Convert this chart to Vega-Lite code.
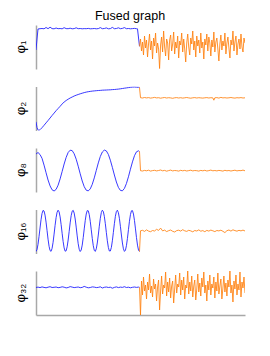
{"$schema":"https://vega.github.io/schema/vega-lite/v6.json","padding":{"left":14,"top":9,"right":26,"bottom":5},"title":{"text":"Fused graph","font":"Liberation Sans","fontSize":12.5,"fontWeight":"normal","color":"#000","anchor":"middle","offset":3},"data":{"values":[
{"p":"φ₁","s":"a","x":0,"y":19},{"p":"φ₁","s":"a","x":1,"y":30},{"p":"φ₁","s":"a","x":2,"y":40},{"p":"φ₁","s":"a","x":4,"y":40.3},{"p":"φ₁","s":"a","x":6,"y":40.5},{"p":"φ₁","s":"a","x":8,"y":40.2},{"p":"φ₁","s":"a","x":10,"y":41.5},{"p":"φ₁","s":"a","x":12,"y":40.3},{"p":"φ₁","s":"a","x":14,"y":41.8},{"p":"φ₁","s":"a","x":16,"y":40.4},{"p":"φ₁","s":"a","x":18,"y":40.2},{"p":"φ₁","s":"a","x":20,"y":41},{"p":"φ₁","s":"a","x":22,"y":40.3},{"p":"φ₁","s":"a","x":24,"y":40.5},{"p":"φ₁","s":"a","x":26,"y":40.2},{"p":"φ₁","s":"a","x":28,"y":41.3},{"p":"φ₁","s":"a","x":30,"y":40.4},{"p":"φ₁","s":"a","x":32,"y":40.3},{"p":"φ₁","s":"a","x":34,"y":40.8},{"p":"φ₁","s":"a","x":36,"y":40.2},{"p":"φ₁","s":"a","x":38,"y":40.4},{"p":"φ₁","s":"a","x":40,"y":41.2},{"p":"φ₁","s":"a","x":42,"y":40.3},{"p":"φ₁","s":"a","x":44,"y":40.5},{"p":"φ₁","s":"a","x":46,"y":40.2},{"p":"φ₁","s":"a","x":48,"y":40.4},{"p":"φ₁","s":"a","x":50,"y":40.3},{"p":"φ₁","s":"a","x":52,"y":40.6},{"p":"φ₁","s":"a","x":54,"y":40.2},{"p":"φ₁","s":"a","x":56,"y":40.3},{"p":"φ₁","s":"a","x":58,"y":40.5},{"p":"φ₁","s":"a","x":60,"y":40.2},{"p":"φ₁","s":"a","x":62,"y":40.4},{"p":"φ₁","s":"a","x":64,"y":41.4},{"p":"φ₁","s":"a","x":66,"y":40.3},{"p":"φ₁","s":"a","x":68,"y":40.5},{"p":"φ₁","s":"a","x":70,"y":41.1},{"p":"φ₁","s":"a","x":72,"y":40.2},{"p":"φ₁","s":"a","x":74,"y":40.4},{"p":"φ₁","s":"a","x":76,"y":41.6},{"p":"φ₁","s":"a","x":78,"y":40.3},{"p":"φ₁","s":"a","x":80,"y":40.5},{"p":"φ₁","s":"a","x":82,"y":41.2},{"p":"φ₁","s":"a","x":84,"y":40.3},{"p":"φ₁","s":"a","x":86,"y":40.6},{"p":"φ₁","s":"a","x":88,"y":41.4},{"p":"φ₁","s":"a","x":90,"y":40.3},{"p":"φ₁","s":"a","x":92,"y":40.5},{"p":"φ₁","s":"a","x":94,"y":40.2},{"p":"φ₁","s":"a","x":96,"y":40.4},{"p":"φ₁","s":"a","x":98,"y":40.6},{"p":"φ₁","s":"a","x":100,"y":40.3},{"p":"φ₁","s":"a","x":101,"y":40.2},{"p":"φ₁","s":"a","x":103,"y":22.7},
{"p":"φ₁","s":"b","x":103,"y":22.7},{"p":"φ₁","s":"b","x":104,"y":30},{"p":"φ₁","s":"b","x":105,"y":18},{"p":"φ₁","s":"b","x":106,"y":27},{"p":"φ₁","s":"b","x":107,"y":14},{"p":"φ₁","s":"b","x":108,"y":33},{"p":"φ₁","s":"b","x":109,"y":21},{"p":"φ₁","s":"b","x":110,"y":29},{"p":"φ₁","s":"b","x":111,"y":12},{"p":"φ₁","s":"b","x":112,"y":25},{"p":"φ₁","s":"b","x":113,"y":35},{"p":"φ₁","s":"b","x":114,"y":19},{"p":"φ₁","s":"b","x":115,"y":28},{"p":"φ₁","s":"b","x":116,"y":10},{"p":"φ₁","s":"b","x":117,"y":31},{"p":"φ₁","s":"b","x":118,"y":23},{"p":"φ₁","s":"b","x":119,"y":36},{"p":"φ₁","s":"b","x":120,"y":16},{"p":"φ₁","s":"b","x":121,"y":26},{"p":"φ₁","s":"b","x":122,"y":20},{"p":"φ₁","s":"b","x":123,"y":0.5},{"p":"φ₁","s":"b","x":124,"y":24},{"p":"φ₁","s":"b","x":125,"y":32},{"p":"φ₁","s":"b","x":126,"y":17},{"p":"φ₁","s":"b","x":127,"y":38},{"p":"φ₁","s":"b","x":128,"y":22},{"p":"φ₁","s":"b","x":129,"y":13},{"p":"φ₁","s":"b","x":130,"y":30},{"p":"φ₁","s":"b","x":131,"y":26},{"p":"φ₁","s":"b","x":132,"y":9},{"p":"φ₁","s":"b","x":133,"y":29},{"p":"φ₁","s":"b","x":134,"y":34},{"p":"φ₁","s":"b","x":135,"y":18},{"p":"φ₁","s":"b","x":136,"y":25},{"p":"φ₁","s":"b","x":137,"y":37},{"p":"φ₁","s":"b","x":138,"y":15},{"p":"φ₁","s":"b","x":139,"y":27},{"p":"φ₁","s":"b","x":140,"y":21},{"p":"φ₁","s":"b","x":141,"y":33},{"p":"φ₁","s":"b","x":142,"y":11},{"p":"φ₁","s":"b","x":143,"y":28},{"p":"φ₁","s":"b","x":144,"y":24},{"p":"φ₁","s":"b","x":145,"y":36},{"p":"φ₁","s":"b","x":146,"y":17},{"p":"φ₁","s":"b","x":147,"y":30},{"p":"φ₁","s":"b","x":148,"y":20},{"p":"φ₁","s":"b","x":149,"y":7},{"p":"φ₁","s":"b","x":150,"y":26},{"p":"φ₁","s":"b","x":151,"y":35},{"p":"φ₁","s":"b","x":152,"y":22},{"p":"φ₁","s":"b","x":153,"y":14},{"p":"φ₁","s":"b","x":154,"y":31},{"p":"φ₁","s":"b","x":155,"y":25},{"p":"φ₁","s":"b","x":156,"y":38},{"p":"φ₁","s":"b","x":157,"y":19},{"p":"φ₁","s":"b","x":158,"y":28},{"p":"φ₁","s":"b","x":159,"y":12},{"p":"φ₁","s":"b","x":160,"y":33},{"p":"φ₁","s":"b","x":161,"y":23},{"p":"φ₁","s":"b","x":162,"y":29},{"p":"φ₁","s":"b","x":163,"y":16},{"p":"φ₁","s":"b","x":164,"y":36},{"p":"φ₁","s":"b","x":165,"y":21},{"p":"φ₁","s":"b","x":166,"y":27},{"p":"φ₁","s":"b","x":167,"y":10},{"p":"φ₁","s":"b","x":168,"y":30},{"p":"φ₁","s":"b","x":169,"y":24},{"p":"φ₁","s":"b","x":170,"y":35},{"p":"φ₁","s":"b","x":171,"y":18},{"p":"φ₁","s":"b","x":172,"y":32},{"p":"φ₁","s":"b","x":173,"y":26},{"p":"φ₁","s":"b","x":174,"y":13},{"p":"φ₁","s":"b","x":175,"y":29},{"p":"φ₁","s":"b","x":176,"y":22},{"p":"φ₁","s":"b","x":177,"y":37},{"p":"φ₁","s":"b","x":178,"y":17},{"p":"φ₁","s":"b","x":179,"y":27},{"p":"φ₁","s":"b","x":180,"y":31},{"p":"φ₁","s":"b","x":181,"y":20},{"p":"φ₁","s":"b","x":182,"y":8},{"p":"φ₁","s":"b","x":183,"y":25},{"p":"φ₁","s":"b","x":184,"y":34},{"p":"φ₁","s":"b","x":185,"y":19},{"p":"φ₁","s":"b","x":186,"y":28},{"p":"φ₁","s":"b","x":187,"y":23},{"p":"φ₁","s":"b","x":188,"y":36},{"p":"φ₁","s":"b","x":189,"y":15},{"p":"φ₁","s":"b","x":190,"y":26},{"p":"φ₁","s":"b","x":191,"y":32},{"p":"φ₁","s":"b","x":192,"y":21},{"p":"φ₁","s":"b","x":193,"y":11},{"p":"φ₁","s":"b","x":194,"y":29},{"p":"φ₁","s":"b","x":195,"y":24},{"p":"φ₁","s":"b","x":196,"y":38},{"p":"φ₁","s":"b","x":197,"y":18},{"p":"φ₁","s":"b","x":198,"y":27},{"p":"φ₁","s":"b","x":199,"y":33},{"p":"φ₁","s":"b","x":200,"y":14},{"p":"φ₁","s":"b","x":201,"y":25},{"p":"φ₁","s":"b","x":202,"y":30},{"p":"φ₁","s":"b","x":203,"y":20},{"p":"φ₁","s":"b","x":204,"y":35},{"p":"φ₁","s":"b","x":205,"y":22},{"p":"φ₁","s":"b","x":206,"y":17},{"p":"φ₁","s":"b","x":207,"y":31},{"p":"φ₁","s":"b","x":208,"y":26},
{"p":"φ₂","s":"a","x":0,"y":8.7},{"p":"φ₂","s":"a","x":1,"y":3},{"p":"φ₂","s":"a","x":2,"y":0.5},{"p":"φ₂","s":"a","x":3,"y":0},{"p":"φ₂","s":"a","x":4,"y":0.8},{"p":"φ₂","s":"a","x":6,"y":2.8},{"p":"φ₂","s":"a","x":8,"y":5.2},{"p":"φ₂","s":"a","x":10,"y":7.6},{"p":"φ₂","s":"a","x":12,"y":10},{"p":"φ₂","s":"a","x":14,"y":12.5},{"p":"φ₂","s":"a","x":16,"y":15},{"p":"φ₂","s":"a","x":18,"y":17.4},{"p":"φ₂","s":"a","x":20,"y":19.8},{"p":"φ₂","s":"a","x":22,"y":22},{"p":"φ₂","s":"a","x":24,"y":24.2},{"p":"φ₂","s":"a","x":26,"y":26.5},{"p":"φ₂","s":"a","x":28,"y":28.5},{"p":"φ₂","s":"a","x":30,"y":30},{"p":"φ₂","s":"a","x":32,"y":31.3},{"p":"φ₂","s":"a","x":34,"y":32.5},{"p":"φ₂","s":"a","x":36,"y":33.5},{"p":"φ₂","s":"a","x":38,"y":34.5},{"p":"φ₂","s":"a","x":40,"y":35.3},{"p":"φ₂","s":"a","x":42,"y":36},{"p":"φ₂","s":"a","x":44,"y":36.7},{"p":"φ₂","s":"a","x":46,"y":37.3},{"p":"φ₂","s":"a","x":48,"y":37.9},{"p":"φ₂","s":"a","x":50,"y":38.4},{"p":"φ₂","s":"a","x":52,"y":38.8},{"p":"φ₂","s":"a","x":54,"y":39.1},{"p":"φ₂","s":"a","x":56,"y":39.4},{"p":"φ₂","s":"a","x":58,"y":39.6},{"p":"φ₂","s":"a","x":60,"y":39.8},{"p":"φ₂","s":"a","x":62,"y":40},{"p":"φ₂","s":"a","x":64,"y":40.1},{"p":"φ₂","s":"a","x":66,"y":40.3},{"p":"φ₂","s":"a","x":68,"y":40.4},{"p":"φ₂","s":"a","x":70,"y":40.5},{"p":"φ₂","s":"a","x":72,"y":40.6},{"p":"φ₂","s":"a","x":74,"y":40.7},{"p":"φ₂","s":"a","x":76,"y":40.9},{"p":"φ₂","s":"a","x":78,"y":41},{"p":"φ₂","s":"a","x":80,"y":41.2},{"p":"φ₂","s":"a","x":82,"y":41.4},{"p":"φ₂","s":"a","x":84,"y":41.7},{"p":"φ₂","s":"a","x":86,"y":42},{"p":"φ₂","s":"a","x":88,"y":42.3},{"p":"φ₂","s":"a","x":90,"y":42.6},{"p":"φ₂","s":"a","x":92,"y":42.9},{"p":"φ₂","s":"a","x":94,"y":43.2},{"p":"φ₂","s":"a","x":96,"y":43.4},{"p":"φ₂","s":"a","x":98,"y":43.5},{"p":"φ₂","s":"a","x":100,"y":43.3},{"p":"φ₂","s":"a","x":102,"y":43.2},{"p":"φ₂","s":"a","x":103,"y":43.1},
{"p":"φ₂","s":"b","x":103,"y":43.1},{"p":"φ₂","s":"b","x":104,"y":32.8},{"p":"φ₂","s":"b","x":106,"y":32.5},{"p":"φ₂","s":"b","x":108,"y":33},{"p":"φ₂","s":"b","x":110,"y":32.6},{"p":"φ₂","s":"b","x":112,"y":32.9},{"p":"φ₂","s":"b","x":114,"y":32.4},{"p":"φ₂","s":"b","x":116,"y":32.7},{"p":"φ₂","s":"b","x":118,"y":33.1},{"p":"φ₂","s":"b","x":120,"y":32.6},{"p":"φ₂","s":"b","x":122,"y":32.8},{"p":"φ₂","s":"b","x":124,"y":32.3},{"p":"φ₂","s":"b","x":126,"y":32.7},{"p":"φ₂","s":"b","x":128,"y":33},{"p":"φ₂","s":"b","x":130,"y":32.5},{"p":"φ₂","s":"b","x":132,"y":32.8},{"p":"φ₂","s":"b","x":134,"y":32.6},{"p":"φ₂","s":"b","x":136,"y":32.2},{"p":"φ₂","s":"b","x":138,"y":32.7},{"p":"φ₂","s":"b","x":140,"y":32.9},{"p":"φ₂","s":"b","x":142,"y":32.5},{"p":"φ₂","s":"b","x":144,"y":32.8},{"p":"φ₂","s":"b","x":146,"y":32.4},{"p":"φ₂","s":"b","x":148,"y":32.7},{"p":"φ₂","s":"b","x":150,"y":33},{"p":"φ₂","s":"b","x":152,"y":32.6},{"p":"φ₂","s":"b","x":154,"y":32.3},{"p":"φ₂","s":"b","x":156,"y":32.7},{"p":"φ₂","s":"b","x":158,"y":32.9},{"p":"φ₂","s":"b","x":160,"y":32.5},{"p":"φ₂","s":"b","x":162,"y":32.8},{"p":"φ₂","s":"b","x":164,"y":32.6},{"p":"φ₂","s":"b","x":166,"y":32.4},{"p":"φ₂","s":"b","x":168,"y":32.7},{"p":"φ₂","s":"b","x":170,"y":32.9},{"p":"φ₂","s":"b","x":172,"y":32.5},{"p":"φ₂","s":"b","x":174,"y":32.8},{"p":"φ₂","s":"b","x":176,"y":32.6},{"p":"φ₂","s":"b","x":177,"y":30.3},{"p":"φ₂","s":"b","x":178,"y":32.7},{"p":"φ₂","s":"b","x":180,"y":32.9},{"p":"φ₂","s":"b","x":182,"y":32.4},{"p":"φ₂","s":"b","x":184,"y":33.1},{"p":"φ₂","s":"b","x":186,"y":32.6},{"p":"φ₂","s":"b","x":188,"y":32.8},{"p":"φ₂","s":"b","x":190,"y":32.5},{"p":"φ₂","s":"b","x":192,"y":32.7},{"p":"φ₂","s":"b","x":194,"y":33},{"p":"φ₂","s":"b","x":196,"y":32.6},{"p":"φ₂","s":"b","x":198,"y":32.4},{"p":"φ₂","s":"b","x":200,"y":32.8},{"p":"φ₂","s":"b","x":202,"y":32.6},{"p":"φ₂","s":"b","x":204,"y":32.9},{"p":"φ₂","s":"b","x":206,"y":32.5},{"p":"φ₂","s":"b","x":208,"y":32.7},
{"p":"φ₈","s":"a","x":0,"y":38},{"p":"φ₈","s":"a","x":2,"y":39.5},{"p":"φ₈","s":"a","x":4,"y":37.5},{"p":"φ₈","s":"a","x":6,"y":33.7},{"p":"φ₈","s":"a","x":8,"y":26.9},{"p":"φ₈","s":"a","x":10,"y":19.3},{"p":"φ₈","s":"a","x":12,"y":12},{"p":"φ₈","s":"a","x":14,"y":6.1},{"p":"φ₈","s":"a","x":16,"y":2.2},{"p":"φ₈","s":"a","x":18,"y":1},{"p":"φ₈","s":"a","x":20,"y":2.6},{"p":"φ₈","s":"a","x":22,"y":6.8},{"p":"φ₈","s":"a","x":24,"y":13.1},{"p":"φ₈","s":"a","x":26,"y":20.5},{"p":"φ₈","s":"a","x":28,"y":28},{"p":"φ₈","s":"a","x":30,"y":34.6},{"p":"φ₈","s":"a","x":32,"y":39.5},{"p":"φ₈","s":"a","x":34,"y":41.8},{"p":"φ₈","s":"a","x":36,"y":41.4},{"p":"φ₈","s":"a","x":38,"y":38.2},{"p":"φ₈","s":"a","x":40,"y":32.8},{"p":"φ₈","s":"a","x":42,"y":25.8},{"p":"φ₈","s":"a","x":44,"y":18.2},{"p":"φ₈","s":"a","x":46,"y":11},{"p":"φ₈","s":"a","x":48,"y":5.3},{"p":"φ₈","s":"a","x":50,"y":1.8},{"p":"φ₈","s":"a","x":52,"y":1.1},{"p":"φ₈","s":"a","x":54,"y":3.1},{"p":"φ₈","s":"a","x":56,"y":7.7},{"p":"φ₈","s":"a","x":58,"y":14.1},{"p":"φ₈","s":"a","x":60,"y":21.6},{"p":"φ₈","s":"a","x":62,"y":29.1},{"p":"φ₈","s":"a","x":64,"y":35.5},{"p":"φ₈","s":"a","x":66,"y":40},{"p":"φ₈","s":"a","x":68,"y":41.9},{"p":"φ₈","s":"a","x":70,"y":41.1},{"p":"φ₈","s":"a","x":72,"y":37.6},{"p":"φ₈","s":"a","x":74,"y":31.8},{"p":"φ₈","s":"a","x":76,"y":24.6},{"p":"φ₈","s":"a","x":78,"y":17},{"p":"φ₈","s":"a","x":80,"y":10},{"p":"φ₈","s":"a","x":82,"y":4.6},{"p":"φ₈","s":"a","x":84,"y":1.6},{"p":"φ₈","s":"a","x":86,"y":1.2},{"p":"φ₈","s":"a","x":88,"y":3.6},{"p":"φ₈","s":"a","x":90,"y":8.5},{"p":"φ₈","s":"a","x":92,"y":15.2},{"p":"φ₈","s":"a","x":94,"y":22.8},{"p":"φ₈","s":"a","x":96,"y":30.1},{"p":"φ₈","s":"a","x":98,"y":36.3},{"p":"φ₈","s":"a","x":100,"y":40.2},{"p":"φ₈","s":"a","x":102,"y":41.2},{"p":"φ₈","s":"a","x":103,"y":40.5},
{"p":"φ₈","s":"b","x":103,"y":40.5},{"p":"φ₈","s":"b","x":104,"y":21.3},{"p":"φ₈","s":"b","x":106,"y":21},{"p":"φ₈","s":"b","x":108,"y":21.6},{"p":"φ₈","s":"b","x":110,"y":21.2},{"p":"φ₈","s":"b","x":112,"y":21.8},{"p":"φ₈","s":"b","x":114,"y":20.9},{"p":"φ₈","s":"b","x":116,"y":21.4},{"p":"φ₈","s":"b","x":118,"y":21.7},{"p":"φ₈","s":"b","x":120,"y":21.1},{"p":"φ₈","s":"b","x":122,"y":21.5},{"p":"φ₈","s":"b","x":124,"y":22},{"p":"φ₈","s":"b","x":126,"y":21.2},{"p":"φ₈","s":"b","x":128,"y":21.6},{"p":"φ₈","s":"b","x":130,"y":20.8},{"p":"φ₈","s":"b","x":132,"y":21.4},{"p":"φ₈","s":"b","x":134,"y":21.9},{"p":"φ₈","s":"b","x":136,"y":21.1},{"p":"φ₈","s":"b","x":138,"y":21.5},{"p":"φ₈","s":"b","x":140,"y":21.3},{"p":"φ₈","s":"b","x":142,"y":20.9},{"p":"φ₈","s":"b","x":144,"y":21.7},{"p":"φ₈","s":"b","x":146,"y":21.2},{"p":"φ₈","s":"b","x":148,"y":21.6},{"p":"φ₈","s":"b","x":150,"y":21},{"p":"φ₈","s":"b","x":152,"y":21.4},{"p":"φ₈","s":"b","x":154,"y":21.8},{"p":"φ₈","s":"b","x":156,"y":21.1},{"p":"φ₈","s":"b","x":158,"y":21.5},{"p":"φ₈","s":"b","x":160,"y":21.3},{"p":"φ₈","s":"b","x":162,"y":20.9},{"p":"φ₈","s":"b","x":164,"y":21.6},{"p":"φ₈","s":"b","x":166,"y":21.2},{"p":"φ₈","s":"b","x":168,"y":21.7},{"p":"φ₈","s":"b","x":170,"y":21},{"p":"φ₈","s":"b","x":172,"y":21.4},{"p":"φ₈","s":"b","x":174,"y":21.9},{"p":"φ₈","s":"b","x":176,"y":21.2},{"p":"φ₈","s":"b","x":178,"y":21.5},{"p":"φ₈","s":"b","x":180,"y":21.1},{"p":"φ₈","s":"b","x":182,"y":21.6},{"p":"φ₈","s":"b","x":184,"y":21.3},{"p":"φ₈","s":"b","x":186,"y":20.9},{"p":"φ₈","s":"b","x":188,"y":21.7},{"p":"φ₈","s":"b","x":190,"y":21.2},{"p":"φ₈","s":"b","x":192,"y":21.5},{"p":"φ₈","s":"b","x":194,"y":21},{"p":"φ₈","s":"b","x":196,"y":21.4},{"p":"φ₈","s":"b","x":198,"y":21.8},{"p":"φ₈","s":"b","x":200,"y":21.1},{"p":"φ₈","s":"b","x":202,"y":21.5},{"p":"φ₈","s":"b","x":204,"y":21.3},{"p":"φ₈","s":"b","x":206,"y":21.9},{"p":"φ₈","s":"b","x":208,"y":21.2},
{"p":"φ₁₆","s":"a","x":0,"y":2},{"p":"φ₁₆","s":"a","x":1,"y":3.9},{"p":"φ₁₆","s":"a","x":2,"y":9.1},{"p":"φ₁₆","s":"a","x":3,"y":16.8},{"p":"φ₁₆","s":"a","x":4,"y":25.5},{"p":"φ₁₆","s":"a","x":5,"y":33.7},{"p":"φ₁₆","s":"a","x":6,"y":40},{"p":"φ₁₆","s":"a","x":7,"y":43.1},{"p":"φ₁₆","s":"a","x":8,"y":42.5},{"p":"φ₁₆","s":"a","x":9,"y":38.4},{"p":"φ₁₆","s":"a","x":10,"y":31.4},{"p":"φ₁₆","s":"a","x":11,"y":22.9},{"p":"φ₁₆","s":"a","x":12,"y":14.3},{"p":"φ₁₆","s":"a","x":13,"y":7.2},{"p":"φ₁₆","s":"a","x":14,"y":2.9},{"p":"φ₁₆","s":"a","x":15,"y":2.2},{"p":"φ₁₆","s":"a","x":16,"y":5.1},{"p":"φ₁₆","s":"a","x":17,"y":11.2},{"p":"φ₁₆","s":"a","x":18,"y":19.4},{"p":"φ₁₆","s":"a","x":19,"y":28.1},{"p":"φ₁₆","s":"a","x":20,"y":35.9},{"p":"φ₁₆","s":"a","x":21,"y":41.3},{"p":"φ₁₆","s":"a","x":22,"y":43.3},{"p":"φ₁₆","s":"a","x":23,"y":41.6},{"p":"φ₁₆","s":"a","x":24,"y":36.6},{"p":"φ₁₆","s":"a","x":25,"y":29},{"p":"φ₁₆","s":"a","x":26,"y":20.2},{"p":"φ₁₆","s":"a","x":27,"y":12},{"p":"φ₁₆","s":"a","x":28,"y":5.6},{"p":"φ₁₆","s":"a","x":29,"y":2.3},{"p":"φ₁₆","s":"a","x":30,"y":2.7},{"p":"φ₁₆","s":"a","x":31,"y":6.7},{"p":"φ₁₆","s":"a","x":32,"y":13.5},{"p":"φ₁₆","s":"a","x":33,"y":22},{"p":"φ₁₆","s":"a","x":34,"y":30.6},{"p":"φ₁₆","s":"a","x":35,"y":37.8},{"p":"φ₁₆","s":"a","x":36,"y":42.3},{"p":"φ₁₆","s":"a","x":37,"y":43.2},{"p":"φ₁₆","s":"a","x":38,"y":40.4},{"p":"φ₁₆","s":"a","x":39,"y":34.5},{"p":"φ₁₆","s":"a","x":40,"y":26.4},{"p":"φ₁₆","s":"a","x":41,"y":17.6},{"p":"φ₁₆","s":"a","x":42,"y":9.8},{"p":"φ₁₆","s":"a","x":43,"y":4.2},{"p":"φ₁₆","s":"a","x":44,"y":2},{"p":"φ₁₆","s":"a","x":45,"y":3.5},{"p":"φ₁₆","s":"a","x":46,"y":8.4},{"p":"φ₁₆","s":"a","x":47,"y":15.9},{"p":"φ₁₆","s":"a","x":48,"y":24.6},{"p":"φ₁₆","s":"a","x":49,"y":33},{"p":"φ₁₆","s":"a","x":50,"y":39.5},{"p":"φ₁₆","s":"a","x":51,"y":42.9},{"p":"φ₁₆","s":"a","x":52,"y":42.7},{"p":"φ₁₆","s":"a","x":53,"y":38.9},{"p":"φ₁₆","s":"a","x":54,"y":32.2},{"p":"φ₁₆","s":"a","x":55,"y":23.7},{"p":"φ₁₆","s":"a","x":56,"y":15.1},{"p":"φ₁₆","s":"a","x":57,"y":7.8},{"p":"φ₁₆","s":"a","x":58,"y":3.2},{"p":"φ₁₆","s":"a","x":59,"y":2.1},{"p":"φ₁₆","s":"a","x":60,"y":4.7},{"p":"φ₁₆","s":"a","x":61,"y":10.5},{"p":"φ₁₆","s":"a","x":62,"y":18.5},{"p":"φ₁₆","s":"a","x":63,"y":27.3},{"p":"φ₁₆","s":"a","x":64,"y":35.2},{"p":"φ₁₆","s":"a","x":65,"y":40.9},{"p":"φ₁₆","s":"a","x":66,"y":43.3},{"p":"φ₁₆","s":"a","x":67,"y":42},{"p":"φ₁₆","s":"a","x":68,"y":37.2},{"p":"φ₁₆","s":"a","x":69,"y":29.8},{"p":"φ₁₆","s":"a","x":70,"y":21.1},{"p":"φ₁₆","s":"a","x":71,"y":12.7},{"p":"φ₁₆","s":"a","x":72,"y":6.1},{"p":"φ₁₆","s":"a","x":73,"y":2.5},{"p":"φ₁₆","s":"a","x":74,"y":2.5},{"p":"φ₁₆","s":"a","x":75,"y":6.1},{"p":"φ₁₆","s":"a","x":76,"y":12.7},{"p":"φ₁₆","s":"a","x":77,"y":21.1},{"p":"φ₁₆","s":"a","x":78,"y":29.8},{"p":"φ₁₆","s":"a","x":79,"y":37.2},{"p":"φ₁₆","s":"a","x":80,"y":42},{"p":"φ₁₆","s":"a","x":81,"y":43.3},{"p":"φ₁₆","s":"a","x":82,"y":40.8},{"p":"φ₁₆","s":"a","x":83,"y":35.2},{"p":"φ₁₆","s":"a","x":84,"y":27.2},{"p":"φ₁₆","s":"a","x":85,"y":18.5},{"p":"φ₁₆","s":"a","x":86,"y":10.5},{"p":"φ₁₆","s":"a","x":87,"y":4.7},{"p":"φ₁₆","s":"a","x":88,"y":2.1},{"p":"φ₁₆","s":"a","x":89,"y":3.2},{"p":"φ₁₆","s":"a","x":90,"y":7.8},{"p":"φ₁₆","s":"a","x":91,"y":15.1},{"p":"φ₁₆","s":"a","x":92,"y":23.8},{"p":"φ₁₆","s":"a","x":93,"y":32.2},{"p":"φ₁₆","s":"a","x":94,"y":38.9},{"p":"φ₁₆","s":"a","x":95,"y":42.7},{"p":"φ₁₆","s":"a","x":96,"y":42.9},{"p":"φ₁₆","s":"a","x":97,"y":39.5},{"p":"φ₁₆","s":"a","x":98,"y":33},{"p":"φ₁₆","s":"a","x":99,"y":24.6},{"p":"φ₁₆","s":"a","x":100,"y":15.9},{"p":"φ₁₆","s":"a","x":101,"y":8.4},{"p":"φ₁₆","s":"a","x":102,"y":3.5},{"p":"φ₁₆","s":"a","x":103,"y":2},
{"p":"φ₁₆","s":"b","x":103,"y":2},{"p":"φ₁₆","s":"b","x":104,"y":22.7},{"p":"φ₁₆","s":"b","x":106,"y":23.2},{"p":"φ₁₆","s":"b","x":108,"y":22.1},{"p":"φ₁₆","s":"b","x":110,"y":23.6},{"p":"φ₁₆","s":"b","x":112,"y":22.4},{"p":"φ₁₆","s":"b","x":114,"y":21.8},{"p":"φ₁₆","s":"b","x":116,"y":23},{"p":"φ₁₆","s":"b","x":118,"y":22.5},{"p":"φ₁₆","s":"b","x":120,"y":24.2},{"p":"φ₁₆","s":"b","x":122,"y":23.1},{"p":"φ₁₆","s":"b","x":124,"y":25.4},{"p":"φ₁₆","s":"b","x":126,"y":22.6},{"p":"φ₁₆","s":"b","x":128,"y":23.4},{"p":"φ₁₆","s":"b","x":130,"y":21.9},{"p":"φ₁₆","s":"b","x":132,"y":22.8},{"p":"φ₁₆","s":"b","x":134,"y":23.5},{"p":"φ₁₆","s":"b","x":136,"y":22.2},{"p":"φ₁₆","s":"b","x":138,"y":21.5},{"p":"φ₁₆","s":"b","x":140,"y":22.9},{"p":"φ₁₆","s":"b","x":142,"y":23.3},{"p":"φ₁₆","s":"b","x":144,"y":22.4},{"p":"φ₁₆","s":"b","x":146,"y":23.8},{"p":"φ₁₆","s":"b","x":148,"y":22.7},{"p":"φ₁₆","s":"b","x":150,"y":22.1},{"p":"φ₁₆","s":"b","x":152,"y":23.2},{"p":"φ₁₆","s":"b","x":154,"y":22.6},{"p":"φ₁₆","s":"b","x":156,"y":21.7},{"p":"φ₁₆","s":"b","x":158,"y":23},{"p":"φ₁₆","s":"b","x":160,"y":22.5},{"p":"φ₁₆","s":"b","x":162,"y":23.6},{"p":"φ₁₆","s":"b","x":164,"y":22.3},{"p":"φ₁₆","s":"b","x":166,"y":22.9},{"p":"φ₁₆","s":"b","x":168,"y":21.8},{"p":"φ₁₆","s":"b","x":170,"y":23.1},{"p":"φ₁₆","s":"b","x":172,"y":22.4},{"p":"φ₁₆","s":"b","x":174,"y":23.4},{"p":"φ₁₆","s":"b","x":176,"y":22.7},{"p":"φ₁₆","s":"b","x":178,"y":21.9},{"p":"φ₁₆","s":"b","x":180,"y":23},{"p":"φ₁₆","s":"b","x":182,"y":22.6},{"p":"φ₁₆","s":"b","x":184,"y":23.3},{"p":"φ₁₆","s":"b","x":186,"y":22.2},{"p":"φ₁₆","s":"b","x":188,"y":20.9},{"p":"φ₁₆","s":"b","x":190,"y":22.8},{"p":"φ₁₆","s":"b","x":192,"y":23.5},{"p":"φ₁₆","s":"b","x":194,"y":22.4},{"p":"φ₁₆","s":"b","x":196,"y":23.7},{"p":"φ₁₆","s":"b","x":198,"y":22.9},{"p":"φ₁₆","s":"b","x":200,"y":22.3},{"p":"φ₁₆","s":"b","x":202,"y":23.2},{"p":"φ₁₆","s":"b","x":204,"y":22.6},{"p":"φ₁₆","s":"b","x":206,"y":23.4},{"p":"φ₁₆","s":"b","x":208,"y":22.5},
{"p":"φ₃₂","s":"a","x":0,"y":27.5},{"p":"φ₃₂","s":"a","x":2,"y":27.9},{"p":"φ₃₂","s":"a","x":4,"y":27.4},{"p":"φ₃₂","s":"a","x":6,"y":28.1},{"p":"φ₃₂","s":"a","x":8,"y":27.6},{"p":"φ₃₂","s":"a","x":10,"y":27.2},{"p":"φ₃₂","s":"a","x":12,"y":27.8},{"p":"φ₃₂","s":"a","x":14,"y":28.3},{"p":"φ₃₂","s":"a","x":16,"y":27.5},{"p":"φ₃₂","s":"a","x":18,"y":27.7},{"p":"φ₃₂","s":"a","x":20,"y":28},{"p":"φ₃₂","s":"a","x":22,"y":27.3},{"p":"φ₃₂","s":"a","x":24,"y":27.6},{"p":"φ₃₂","s":"a","x":26,"y":28.2},{"p":"φ₃₂","s":"a","x":28,"y":27.8},{"p":"φ₃₂","s":"a","x":30,"y":27.1},{"p":"φ₃₂","s":"a","x":32,"y":27.5},{"p":"φ₃₂","s":"a","x":34,"y":28.4},{"p":"φ₃₂","s":"a","x":36,"y":27.9},{"p":"φ₃₂","s":"a","x":38,"y":27.4},{"p":"φ₃₂","s":"a","x":40,"y":27.7},{"p":"φ₃₂","s":"a","x":42,"y":28},{"p":"φ₃₂","s":"a","x":44,"y":27.3},{"p":"φ₃₂","s":"a","x":46,"y":27.6},{"p":"φ₃₂","s":"a","x":48,"y":28.6},{"p":"φ₃₂","s":"a","x":50,"y":27.8},{"p":"φ₃₂","s":"a","x":52,"y":27.2},{"p":"φ₃₂","s":"a","x":54,"y":27.5},{"p":"φ₃₂","s":"a","x":56,"y":28.1},{"p":"φ₃₂","s":"a","x":58,"y":27.9},{"p":"φ₃₂","s":"a","x":60,"y":27.4},{"p":"φ₃₂","s":"a","x":62,"y":27.6},{"p":"φ₃₂","s":"a","x":64,"y":28.2},{"p":"φ₃₂","s":"a","x":66,"y":27},{"p":"φ₃₂","s":"a","x":68,"y":27.7},{"p":"φ₃₂","s":"a","x":70,"y":28},{"p":"φ₃₂","s":"a","x":72,"y":27.5},{"p":"φ₃₂","s":"a","x":74,"y":27.8},{"p":"φ₃₂","s":"a","x":76,"y":26.8},{"p":"φ₃₂","s":"a","x":78,"y":27.6},{"p":"φ₃₂","s":"a","x":80,"y":28.1},{"p":"φ₃₂","s":"a","x":82,"y":27.4},{"p":"φ₃₂","s":"a","x":84,"y":27.9},{"p":"φ₃₂","s":"a","x":86,"y":27.6},{"p":"φ₃₂","s":"a","x":88,"y":28.3},{"p":"φ₃₂","s":"a","x":90,"y":27.5},{"p":"φ₃₂","s":"a","x":92,"y":27.8},{"p":"φ₃₂","s":"a","x":94,"y":27.2},{"p":"φ₃₂","s":"a","x":96,"y":27.7},{"p":"φ₃₂","s":"a","x":98,"y":28},{"p":"φ₃₂","s":"a","x":100,"y":27.6},{"p":"φ₃₂","s":"a","x":102,"y":27.9},{"p":"φ₃₂","s":"a","x":103,"y":27.7},
{"p":"φ₃₂","s":"b","x":103,"y":27.7},{"p":"φ₃₂","s":"b","x":104,"y":0},{"p":"φ₃₂","s":"b","x":105,"y":34},{"p":"φ₃₂","s":"b","x":106,"y":20},{"p":"φ₃₂","s":"b","x":107,"y":38},{"p":"φ₃₂","s":"b","x":108,"y":24},{"p":"φ₃₂","s":"b","x":109,"y":30},{"p":"φ₃₂","s":"b","x":110,"y":16},{"p":"φ₃₂","s":"b","x":111,"y":33},{"p":"φ₃₂","s":"b","x":112,"y":25},{"p":"φ₃₂","s":"b","x":113,"y":41},{"p":"φ₃₂","s":"b","x":114,"y":22},{"p":"φ₃₂","s":"b","x":115,"y":29},{"p":"φ₃₂","s":"b","x":116,"y":18},{"p":"φ₃₂","s":"b","x":117,"y":36},{"p":"φ₃₂","s":"b","x":118,"y":26},{"p":"φ₃₂","s":"b","x":119,"y":31},{"p":"φ₃₂","s":"b","x":120,"y":14},{"p":"φ₃₂","s":"b","x":121,"y":28},{"p":"φ₃₂","s":"b","x":122,"y":35},{"p":"φ₃₂","s":"b","x":123,"y":5},{"p":"φ₃₂","s":"b","x":124,"y":24},{"p":"φ₃₂","s":"b","x":125,"y":39},{"p":"φ₃₂","s":"b","x":126,"y":21},{"p":"φ₃₂","s":"b","x":127,"y":30},{"p":"φ₃₂","s":"b","x":128,"y":27},{"p":"φ₃₂","s":"b","x":129,"y":43},{"p":"φ₃₂","s":"b","x":130,"y":19},{"p":"φ₃₂","s":"b","x":131,"y":33},{"p":"φ₃₂","s":"b","x":132,"y":23},{"p":"φ₃₂","s":"b","x":133,"y":37},{"p":"φ₃₂","s":"b","x":134,"y":17},{"p":"φ₃₂","s":"b","x":135,"y":29},{"p":"φ₃₂","s":"b","x":136,"y":34},{"p":"φ₃₂","s":"b","x":137,"y":12},{"p":"φ₃₂","s":"b","x":138,"y":26},{"p":"φ₃₂","s":"b","x":139,"y":40},{"p":"φ₃₂","s":"b","x":140,"y":22},{"p":"φ₃₂","s":"b","x":141,"y":31},{"p":"φ₃₂","s":"b","x":142,"y":28},{"p":"φ₃₂","s":"b","x":143,"y":42},{"p":"φ₃₂","s":"b","x":144,"y":20},{"p":"φ₃₂","s":"b","x":145,"y":35},{"p":"φ₃₂","s":"b","x":146,"y":25},{"p":"φ₃₂","s":"b","x":147,"y":38},{"p":"φ₃₂","s":"b","x":148,"y":16},{"p":"φ₃₂","s":"b","x":149,"y":30},{"p":"φ₃₂","s":"b","x":150,"y":27},{"p":"φ₃₂","s":"b","x":151,"y":44},{"p":"φ₃₂","s":"b","x":152,"y":21},{"p":"φ₃₂","s":"b","x":153,"y":33},{"p":"φ₃₂","s":"b","x":154,"y":24},{"p":"φ₃₂","s":"b","x":155,"y":39},{"p":"φ₃₂","s":"b","x":156,"y":18},{"p":"φ₃₂","s":"b","x":157,"y":29},{"p":"φ₃₂","s":"b","x":158,"y":35},{"p":"φ₃₂","s":"b","x":159,"y":15},{"p":"φ₃₂","s":"b","x":160,"y":26},{"p":"φ₃₂","s":"b","x":161,"y":41},{"p":"φ₃₂","s":"b","x":162,"y":23},{"p":"φ₃₂","s":"b","x":163,"y":32},{"p":"φ₃₂","s":"b","x":164,"y":19},{"p":"φ₃₂","s":"b","x":165,"y":37},{"p":"φ₃₂","s":"b","x":166,"y":28},{"p":"φ₃₂","s":"b","x":167,"y":43},{"p":"φ₃₂","s":"b","x":168,"y":22},{"p":"φ₃₂","s":"b","x":169,"y":30},{"p":"φ₃₂","s":"b","x":170,"y":14},{"p":"φ₃₂","s":"b","x":171,"y":34},{"p":"φ₃₂","s":"b","x":172,"y":25},{"p":"φ₃₂","s":"b","x":173,"y":40},{"p":"φ₃₂","s":"b","x":174,"y":20},{"p":"φ₃₂","s":"b","x":175,"y":31},{"p":"φ₃₂","s":"b","x":176,"y":27},{"p":"φ₃₂","s":"b","x":177,"y":38},{"p":"φ₃₂","s":"b","x":178,"y":17},{"p":"φ₃₂","s":"b","x":179,"y":33},{"p":"φ₃₂","s":"b","x":180,"y":24},{"p":"φ₃₂","s":"b","x":181,"y":42},{"p":"φ₃₂","s":"b","x":182,"y":21},{"p":"φ₃₂","s":"b","x":183,"y":29},{"p":"φ₃₂","s":"b","x":184,"y":36},{"p":"φ₃₂","s":"b","x":185,"y":16},{"p":"φ₃₂","s":"b","x":186,"y":27},{"p":"φ₃₂","s":"b","x":187,"y":39},{"p":"φ₃₂","s":"b","x":188,"y":23},{"p":"φ₃₂","s":"b","x":189,"y":32},{"p":"φ₃₂","s":"b","x":190,"y":19},{"p":"φ₃₂","s":"b","x":191,"y":35},{"p":"φ₃₂","s":"b","x":192,"y":28},{"p":"φ₃₂","s":"b","x":193,"y":44},{"p":"φ₃₂","s":"b","x":194,"y":22},{"p":"φ₃₂","s":"b","x":195,"y":30},{"p":"φ₃₂","s":"b","x":196,"y":13},{"p":"φ₃₂","s":"b","x":197,"y":34},{"p":"φ₃₂","s":"b","x":198,"y":26},{"p":"φ₃₂","s":"b","x":199,"y":40},{"p":"φ₃₂","s":"b","x":200,"y":20},{"p":"φ₃₂","s":"b","x":201,"y":31},{"p":"φ₃₂","s":"b","x":202,"y":25},{"p":"φ₃₂","s":"b","x":203,"y":43},{"p":"φ₃₂","s":"b","x":204,"y":18},{"p":"φ₃₂","s":"b","x":205,"y":33},{"p":"φ₃₂","s":"b","x":206,"y":27},{"p":"φ₃₂","s":"b","x":207,"y":38},{"p":"φ₃₂","s":"b","x":208,"y":22}
]},"facet":{"row":{"field":"p","type":"nominal","sort":["φ₁","φ₂","φ₈","φ₁₆","φ₃₂"],"header":{"title":null,"labelFont":"Liberation Sans","labelFontSize":13,"labelColor":"#000","labelAngle":-90,"labelPadding":2}}},"spacing":17.5,"spec":{"width":209,"height":44,"mark":{"type":"line","strokeWidth":1,"clip":true},"encoding":{"x":{"field":"x","type":"quantitative","scale":{"domain":[0,208],"nice":false,"zero":false},"axis":{"orient":"bottom"}},"y":{"field":"y","type":"quantitative","scale":{"domain":[0,44],"nice":false,"zero":false},"axis":{"orient":"left"}},"color":{"field":"s","type":"nominal","scale":{"domain":["a","b"],"range":["#2424ff","#ff800e"]},"legend":null},"opacity":{"field":"s","type":"nominal","scale":{"domain":["a","b"],"range":[0.9,0.85]},"legend":null}}},"config":{"view":{"stroke":null},"axis":{"domainColor":"#a8a8a8","domainWidth":1.5,"ticks":false,"labels":false,"grid":false,"title":null}}}
